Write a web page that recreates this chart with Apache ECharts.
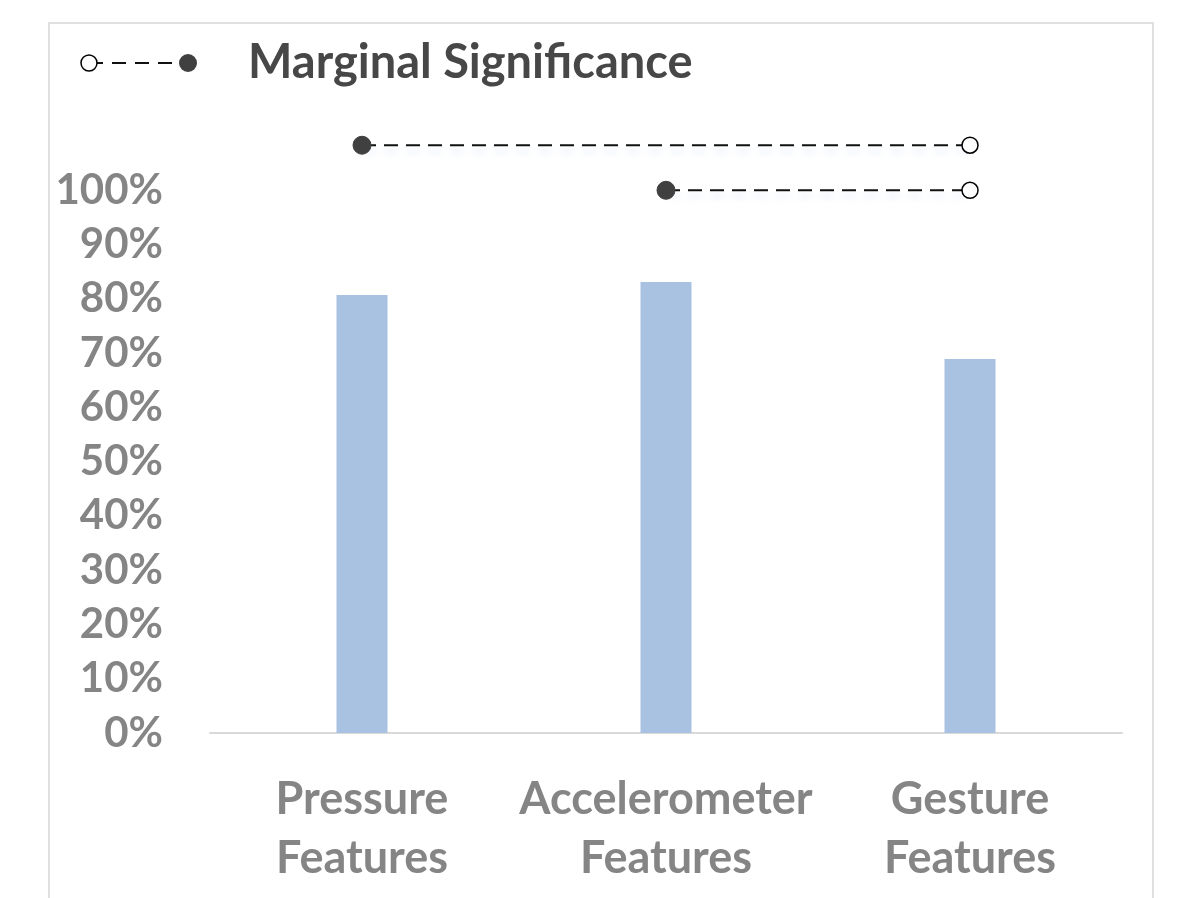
<!DOCTYPE html>
<html>
<head>
<meta charset="utf-8">
<script src="https://cdn.jsdelivr.net/npm/echarts@6/dist/echarts.min.js"></script>
<style>
  html, body { margin: 0; padding: 0; background: #fff; }
  #chart { width: 1191px; height: 898px; }
</style>
</head>
<body>
<div id="chart"></div>
<script>
  // chart data
  const categories = ['Pressure\nFeatures', 'Accelerometer\nFeatures', 'Gesture\nFeatures'];
  const accuracy = [80.7, 83.1, 68.9];
  // significance brackets: [from category, to category, height in %]
  const sigPairs = [[0, 2, 108.3], [1, 2, 100]];
  const yTicks = [0, 10, 20, 30, 40, 50, 60, 70, 80, 90, 100];

  const gray = '#858585';
  const font = 'Lato';

  let chart = echarts.init(document.getElementById('chart'));

  let sigSeries = sigPairs.map(function (p) {
    return {
      type: 'line',
      clip: false,
      silent: true,
      symbol: 'circle',
      lineStyle: {
        color: '#111',
        width: 2,
        type: [14, 8],
        shadowColor: 'rgba(120,160,220,0.25)',
        shadowBlur: 6,
        shadowOffsetY: 6
      },
      data: [
        { value: [p[0], p[2]], symbolSize: 18, itemStyle: { color: '#404040', borderColor: '#404040' } },
        { value: [p[1], p[2]], symbolSize: 16, itemStyle: { color: '#fff', borderColor: '#000', borderWidth: 1.5 } }
      ],
      z: 5
    };
  });

  chart.setOption({
    animation: false,
    grid: { left: 210, right: 69, top: 136, bottom: 165 },
    xAxis: {
      type: 'category',
      data: categories,
      axisTick: { show: false },
      axisLine: { lineStyle: { color: '#d9d9d9', width: 2 } },
      axisLabel: {
        interval: 0,
        color: gray,
        fontFamily: font,
        fontWeight: 'bold',
        fontSize: 45,
        lineHeight: 59,
        margin: 37
      }
    },
    yAxis: {
      type: 'value',
      min: 0,
      max: 110,
      interval: 10,
      splitLine: { show: false },
      axisLine: { show: false },
      axisTick: { show: false },
      axisLabel: {
        color: gray,
        fontFamily: font,
        fontWeight: 'bold',
        fontSize: 42,
        margin: 47,
        formatter: function (v) {
          return yTicks.indexOf(v) >= 0 ? v + '%' : '';
        }
      }
    },
    series: [
      {
        type: 'bar',
        data: accuracy,
        barWidth: 51,
        itemStyle: { color: '#aac2e1' },
        z: 2
      }
    ].concat(sigSeries),
    graphic: [
      {
        // outer frame
        type: 'rect',
        shape: { x: 49, y: 23, width: 1104, height: 900 },
        style: { fill: 'none', stroke: '#e0e0e0', lineWidth: 2 },
        silent: true
      },
      {
        // legend
        type: 'group',
        x: 80,
        y: 44,
        children: [
          {
            type: 'line',
            shape: { x1: 9, y1: 19, x2: 108, y2: 19 },
            style: { stroke: '#111', lineWidth: 2, lineDash: [14, 9] }
          },
          {
            type: 'circle',
            shape: { cx: 9, cy: 19, r: 8 },
            style: { fill: '#fff', stroke: '#000', lineWidth: 1.5 }
          },
          {
            type: 'circle',
            shape: { cx: 108, cy: 19, r: 9 },
            style: { fill: '#404040' }
          },
          {
            type: 'text',
            x: 168,
            y: 19,
            style: {
              text: 'Marginal Significance',
              fill: '#474747',
              font: 'bold 47px Lato',
              verticalAlign: 'middle'
            }
          }
        ]
      }
    ]
  });
</script>
</body>
</html>
